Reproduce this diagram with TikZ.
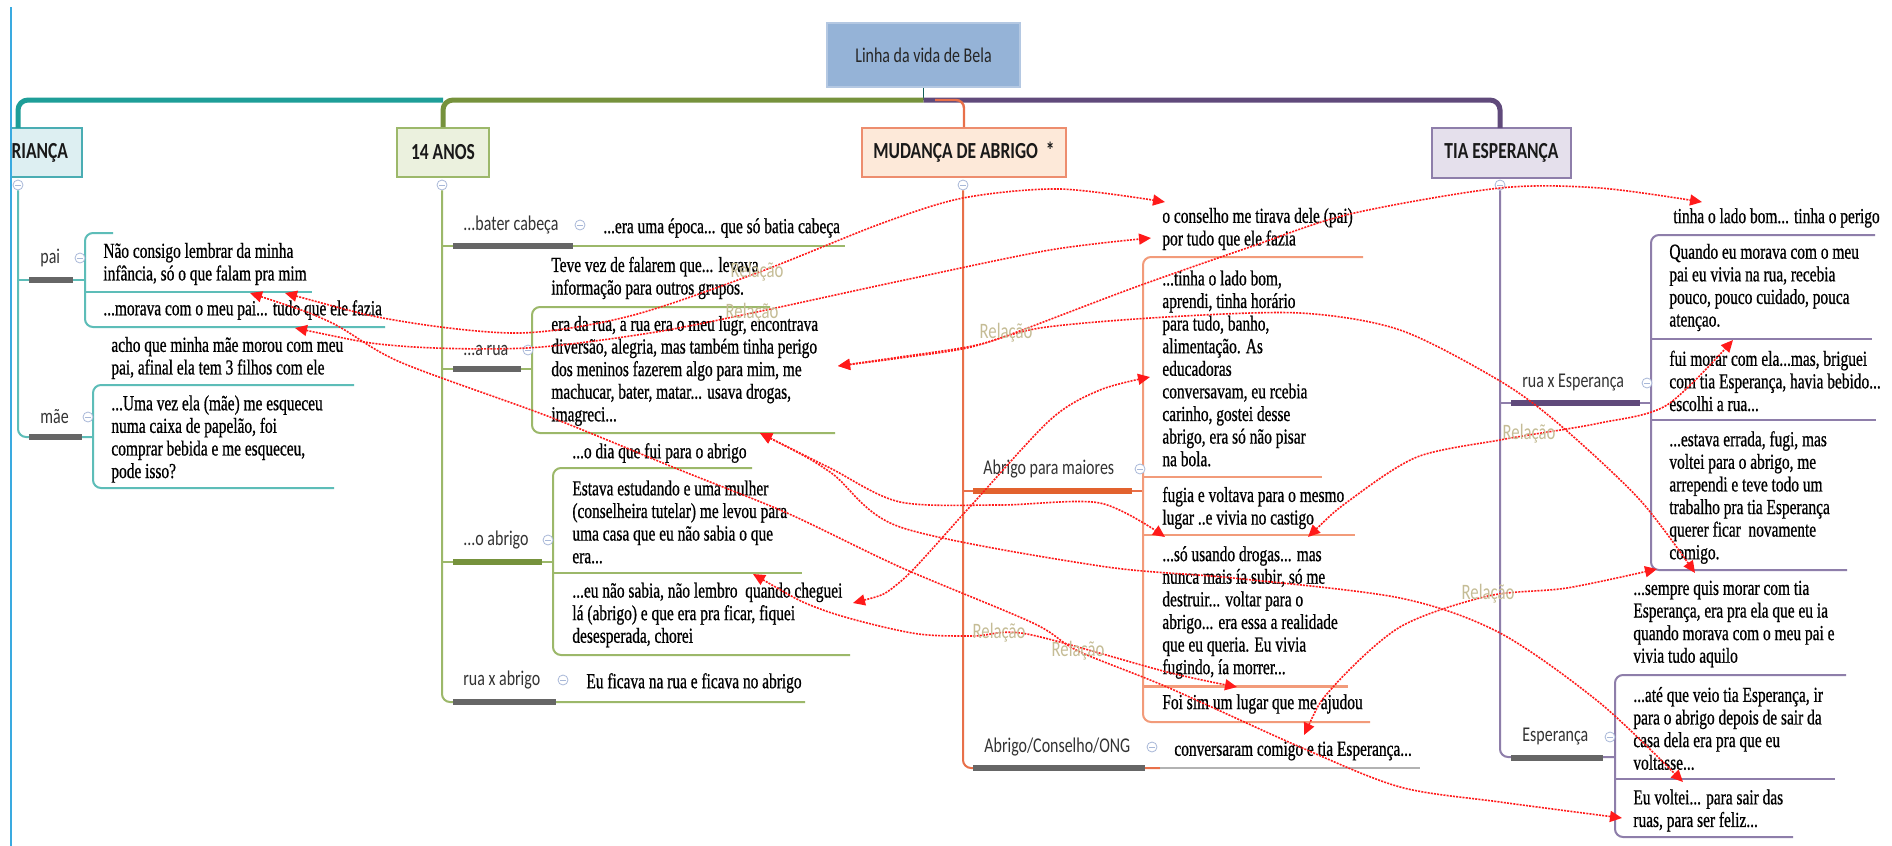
\documentclass[tikz,border=0pt]{standalone}
\usepackage{fontspec}
\setmainfont{Liberation Serif}[FakeStretch=0.72, FakeBold=0.7]
\newfontfamily\lblfont{Carlito}[FakeStretch=0.76]
\usetikzlibrary{arrows.meta}

\definecolor{cBlue}{HTML}{3AAAE0}
\definecolor{cTeal}{HTML}{1E9E98}
\definecolor{cTealL}{HTML}{5DBDB8}
\definecolor{cTealBox}{HTML}{DDEFF2}
\definecolor{cTealD}{HTML}{4AADB3}
\definecolor{cGreen}{HTML}{76923C}
\definecolor{cGreenL}{HTML}{9CB86A}
\definecolor{cGreenBox}{HTML}{EBF1DE}
\definecolor{cOrange}{HTML}{E8704A}
\definecolor{cOrangeL}{HTML}{F29B7A}
\definecolor{cOrangeBox}{HTML}{FDE9D9}
\definecolor{cOrangeDk}{HTML}{E2622E}
\definecolor{cPurple}{HTML}{604A7B}
\definecolor{cPurpleL}{HTML}{8E7EAA}
\definecolor{cPurpleBox}{HTML}{E5E0EC}
\definecolor{cTitle}{HTML}{95B3D7}
\definecolor{cTitleD}{HTML}{B4C8E2}
\definecolor{cGrayBar}{HTML}{666666}
\definecolor{cRel}{HTML}{C5BC95}
\definecolor{cKnob}{HTML}{A8B8D8}
\definecolor{cRed}{HTML}{FF1A1A}

\begin{document}
\begin{tikzpicture}[x=0.5pt,y=-0.5pt,
  body/.style={font=\fontsize{10.7}{11.3}\selectfont, align=left, anchor=west, inner sep=0pt, text=black},
  lab/.style={font=\lblfont\fontsize{10.5}{12}\selectfont, anchor=west, inner sep=0pt, text=black!80},
  headbox/.style={rectangle, line width=1pt, minimum height=24.5pt, inner sep=0pt,
    font=\lblfont\bfseries\fontsize{11.5}{13}\selectfont, text=black!90},
  relab/.style={font=\lblfont\fontsize{11}{12}\selectfont, text=cRel, inner sep=0pt},
  knob/.style={circle, draw=cKnob, fill=white, minimum size=5pt, inner sep=0pt, line width=0.4pt,
    path picture={\draw[cKnob, line width=0.4pt]
      ([xshift=-1.3pt]path picture bounding box.center) -- ([xshift=1.3pt]path picture bounding box.center);}},
  branch/.style={line width=1pt, rounded corners=4pt},
  ubar/.style={line width=2.7pt},
  rel/.style={cRed, line width=0.8pt, dash pattern=on 1pt off 0.6pt,
    {Triangle[length=6pt,width=5.5pt]}-{Triangle[length=6pt,width=5.5pt]}}
]
\useasboundingbox (0,0) rectangle (1892,846);
\fill[white] (0,0) rectangle (1892,846);

% left rule
\draw[cBlue, line width=1.2pt] (11,7) -- (11,846);

% central topic
\node[rectangle, fill=cTitle, draw=cTitleD, line width=0.8pt, minimum width=96.5pt, minimum height=32pt,
  font=\lblfont\fontsize{10.5}{12}\selectfont, text=black!85] (title) at (923.5,55) {Linha da vida de Bela};
\coordinate (bar) at (923.5,100);

% main topics
\begin{scope}
  \clip (12,0) rectangle (300,846);
  \node[headbox, fill=cTealBox, draw=cTealD, minimum width=48.5pt] (hCri) at (33.5,152.5) {};
  \node[headbox, anchor=east] (tCri) at (69,152.5) {CRIANÇA};
\end{scope}
\node[headbox, fill=cGreenBox, draw=cGreenL, minimum width=46pt] (h14) at (443,152.5) {14 ANOS};
\node[headbox, fill=cOrangeBox, draw=cOrange!80, minimum width=102pt] (hMud) at (964,152.5) {MUDANÇA DE ABRIGO\ \ *};
\node[headbox, fill=cPurpleBox, draw=cPurpleL, minimum width=69.5pt, minimum height=25pt] (hTia) at (1501.5,153) {TIA ESPERANÇA};

% main bar
\draw[cTeal!60!black, line width=0.8pt] (title.south) -- (bar);
\draw[cTeal, line width=2.5pt, rounded corners=5pt] (18,128) -- (18,100) -- (h14.north |- bar);
\draw[cGreen, line width=2.5pt, rounded corners=5pt] (h14.north) -- (h14.north |- bar) -- (bar);
\draw[cPurple, line width=2.5pt, rounded corners=5pt] (bar) -- (1500,100) -- (1500,128);
\draw[cOrange, line width=1.2pt, rounded corners=4pt] (935,100) -- (hMud.north |- bar) -- (hMud.north);

% knobs under main topics
\node[knob] (kCri) at (18,185) {};
\node[knob] (k14) at (442,185) {};
\node[knob] (kMud) at (963,185) {};
\node[knob] (kTia) at (1500,185) {};

% ---------- CRIANÇA ----------
\draw[cTealL, branch] (kCri.south) -- (18,437) -- (93,437);
\draw[cTealL, line width=1pt] (18,280) -- (85,280);
\draw[cGrayBar, ubar] (29,280) -- (73,280);
\draw[cGrayBar, ubar] (29,437) -- (82,437);
\draw[cTealL, branch] (113,233) -- (85,233) -- (85,327) -- (385,327);
\draw[cTealL, line width=1pt] (85,292) -- (312,292);
\draw[cTealL, branch] (354,385) -- (93,385) -- (93,488) -- (334,488);
\node[lab] (lPai) at (40,258) {pai};
\node[lab] (lMae) at (40,417) {mãe};
\node[knob] (kPai) at (80,258) {};
\node[knob] (kMae) at (88,417) {};
\node[body] (tPai1) at (103,264) {Não consigo lembrar da minha\\infância, só o que falam pra mim};
\node[body] (tPai2) at (103,310) {...morava com o meu pai... tudo que ele fazia};
\node[body] (tAcho) at (111,358) {acho que minha mãe morou com meu\\pai, afinal ela tem 3 filhos com ele};
\node[body] (tUma) at (111,439) {...Uma vez ela (mãe) me esqueceu\\numa caixa de papelão, foi\\comprar bebida e me esqueceu,\\pode isso?};

% ---------- 14 ANOS ----------
\draw[cGreenL, branch] (k14.south) -- (442,702) -- (805,702);
\draw[cGreenL, line width=1pt] (442,246) -- (845,246);
\draw[cGreenL, line width=1pt] (442,369) -- (532,369);
\draw[cGreenL, line width=1pt] (442,562) -- (553,562);
\draw[cGrayBar, ubar] (453,246) -- (573,246);
\draw[cGrayBar, ubar] (453,369) -- (521,369);
\draw[cGreen, ubar] (453,562) -- (542,562);
\draw[cGrayBar, ubar] (453,702) -- (556,702);
\draw[cGreenL, branch] (770,307) -- (532,307) -- (532,433) -- (835,433);
\draw[cGreenL, branch] (752,468) -- (553,468) -- (553,655) -- (850,655);
\draw[cGreenL, line width=1pt] (553,573) -- (802,573);
\node[lab] (lBater) at (463,225) {...bater cabeça};
\node[lab] (lRua) at (463,350) {...a rua};
\node[lab] (lAbr) at (463,540) {...o abrigo};
\node[lab] (lRuaAbr) at (463,680) {rua x abrigo};
\node[knob] (kBater) at (580,225) {};
\node[knob] (kRua) at (528,350) {};
\node[knob] (kAbr) at (548,540) {};
\node[knob] (kRuaAbr) at (563,680) {};
\node[body] (tEpoca) at (603,228) {...era uma época... que só batia cabeça};
\node[body] (tTeve) at (551,278) {Teve vez de falarem que... levava\\informação para outros grupos.};
\node[body] (tRua) at (551,371) {era da rua, a rua era o meu lugr, encontrava\\diversão, alegria, mas também tinha perigo\\dos meninos fazerem algo para mim, me\\machucar, bater, matar... usava drogas,\\imagreci...};
\node[body] (tDia) at (572,453) {...o dia que fui para o abrigo};
\node[body] (tEstava) at (572,522) {Estava estudando e uma mulher\\(conselheira tutelar) me levou para\\uma casa que eu não sabia o que\\era...};
\node[body] (tNaoSabia) at (572,615) {...eu não sabia, não lembro\ \ quando cheguei\\lá (abrigo) e que era pra ficar, fiquei\\desesperada, chorei};
\node[body] (tFicava) at (586,683) {Eu ficava na rua e ficava no abrigo};

% ---------- MUDANÇA DE ABRIGO ----------
\draw[cOrange, branch] (kMud.south) -- (963,768) -- (1160,768);
\draw[cOrange, line width=1pt] (963,491) -- (1143,491);
\draw[cOrangeDk, ubar] (973,491) -- (1132,491);
\draw[cGrayBar, ubar] (973,768) -- (1145,768);
\draw[black!30, line width=1pt] (1160,768) -- (1420,768);
\draw[cOrangeL, branch] (1363,257) -- (1143,257) -- (1143,722) -- (1370,722);
\draw[cOrangeL, line width=1pt] (1143,477) -- (1322,477);
\draw[cOrangeL, line width=1pt] (1143,535) -- (1355,535);
\draw[cOrangeL, line width=1.5pt] (1143,686) -- (1348,686);
\node[lab] (lMaiores) at (983,469) {Abrigo para maiores};
\node[lab] (lOng) at (984,747) {Abrigo/Conselho/ONG};
\node[knob] (kMaiores) at (1140,469) {};
\node[knob] (kOng) at (1152,747) {};
\node[body] (tConselho) at (1162,229) {o conselho me tirava dele (pai)\\por tudo que ele fazia};
\node[body] (tTinha) at (1162,368.5) {...tinha o lado bom,\\aprendi, tinha horário\\para tudo, banho,\\alimentação. As\\educadoras\\conversavam, eu rcebia\\carinho, gostei desse\\abrigo, era só não pisar\\na bola.};
\node[body] (tFugia) at (1162,508) {fugia e voltava para o mesmo\\lugar ..e vivia no castigo};
\node[body] (tDrogas) at (1162,612.5) {...só usando drogas... mas\\nunca mais ía subir, só me\\destruir... voltar para o\\abrigo... era essa a realidade\\que eu queria. Eu vivia\\fugindo, ía morrer...};
\node[body] (tFoi) at (1162,704) {Foi sim um lugar que me ajudou};
\node[body] (tConversaram) at (1174,751) {conversaram comigo e tia Esperança...};

% ---------- TIA ESPERANÇA ----------
\draw[cPurpleL, branch] (kTia.south) -- (1500,757) -- (1615,757);
\draw[cPurpleL, line width=1pt] (1500,403) -- (1651,403);
\draw[cPurple, ubar] (1511,403) -- (1640,403);
\draw[cGrayBar, ubar] (1511,758) -- (1603,758);
\draw[cPurpleL, branch] (1875,235) -- (1651,235) -- (1651,570) -- (1847,570);
\draw[cPurpleL, line width=1pt] (1651,339) -- (1872,339);
\draw[cPurpleL, line width=1pt] (1651,420) -- (1876,420);
\draw[cPurpleL, branch] (1846,675) -- (1615,675) -- (1615,837) -- (1793,837);
\draw[cPurpleL, line width=1pt] (1615,779) -- (1835,779);
\node[lab] (lRuaEsp) at (1522,383) {rua x Esperança};
\node[lab] (lEsp) at (1522,737) {Esperança};
\node[knob] (kRuaEsp) at (1647,383) {};
\node[knob] (kEsp) at (1610,737) {};
\node[body] (tLado) at (1673,218) {tinha o lado bom... tinha o perigo};
\node[body] (tQuando) at (1669,287.5) {Quando eu morava com o meu\\pai eu vivia na rua, recebia\\pouco, pouco cuidado, pouca\\atençao.};
\node[body] (tFui) at (1669,381) {fui morar com ela...mas, briguei\\com tia Esperança, havia bebido...\\escolhi a rua...};
\node[body] (tErrada) at (1669,497.5) {...estava errada, fugi, mas\\voltei para o abrigo, me\\arrependi e teve todo um\\trabalho pra tia Esperança\\querer ficar\ \ novamente\\comigo.};
\node[body] (tSempre) at (1633,624) {...sempre quis morar com tia\\Esperança, era pra ela que eu ia\\quando morava com o meu pai e\\vivia tudo aquilo};
\node[body] (tAte) at (1633,728.5) {...até que veio tia Esperança, ir\\para o abrigo depois de sair da\\casa dela era pra que eu\\voltasse...};
\node[body] (tVoltei) at (1633,810.5) {Eu voltei... para sair das\\ruas, para ser feliz...};

% ---------- relationship ends ----------
\coordinate (aA) at (250,293);
\coordinate (aB) at (285,293);
\coordinate (aC) at (295,328);
\coordinate (aD) at (838,366);
\coordinate (aE) at (760,433);
\coordinate (aF) at (853,603);
\coordinate (aG) at (753,574);
\coordinate (aH) at (1165,202);
\coordinate (aI) at (1151,238);
\coordinate (aJ) at (1150,377);
\coordinate (aK) at (1165,537);
\coordinate (aL) at (1308,537);
\coordinate (aM) at (1237,687);
\coordinate (aN) at (1304,735);
\coordinate (aO) at (1702,202);
\coordinate (aP) at (1733,340);
\coordinate (aQ) at (1657,569);
\coordinate (aR) at (1695,573);
\coordinate (aS) at (1683,782);
\coordinate (aT) at (1622,818);

% ---------- relationships ----------
\draw[rel] plot[smooth, tension=0.5] coordinates {(aB) (400,321) (520,333) (630,316) (757,273) (880,224) (963,198) (1060,189) (aH)};
\draw[rel] plot[smooth, tension=0.5] coordinates {(aC) (400,346) (527,348) (650,333) (752,313) (900,281) (1050,250) (aI)};
\draw[rel] plot[smooth, tension=0.5] coordinates {(aD) (900,357) (967,347) (1006,336) (1133,288) (1250,247) (1350,214) (1500,188) (1600,188) (aO)};
\draw[rel] plot[smooth, tension=0.5] coordinates {(aD) (900,358) (967,348) (1040,328) (1167,317) (1300,313) (1400,330) (1500,381) (1560,425) (1640,500) (aR)};
\draw[rel] plot[smooth, tension=0.5] coordinates {(aL) (1350,500) (1417,457) (1500,440) (1529,435) (1600,423) (1667,405) (aP)};
\draw[rel] plot[smooth, tension=0.5] coordinates {(aN) (1333,687) (1400,627) (1488,596) (1567,588) (aQ)};
\draw[rel] plot[smooth, tension=0.5] coordinates {(aE) (830,472) (900,527) (1100,566) (1233,578) (1400,598) (1500,633) (1600,703) (aS)};
\draw[rel] plot[smooth, tension=0.5] coordinates {(aE) (830,468) (900,502) (1000,505) (1100,503) (aK)};
\draw[rel] plot[smooth, tension=0.5] coordinates {(aA) (330,322) (400,362) (550,417) (680,470) (787,513) (900,567) (1033,623) (1078,651) (1167,687) (1300,747) (1400,787) (1500,802) (aT)};
\draw[rel] plot[smooth, tension=0.5] coordinates {(aF) (900,582) (967,510) (1050,420) (1100,390) (aJ)};
\draw[rel] plot[smooth, tension=0.5] coordinates {(aG) (823,610) (912,633) (973,636) (1027,634) (1167,672) (aM)};

% relationship labels
\node[relab] (r1) at (757,272) {Relação};
\node[relab] (r2) at (752,313) {Relação};
\node[relab] (r3) at (1006,333) {Relação};
\node[relab] (r4) at (999,633) {Relação};
\node[relab] (r5) at (1078,651) {Relação};
\node[relab] (r6) at (1529,434) {Relação};
\node[relab] (r7) at (1488,594) {Relação};
\end{tikzpicture}
\end{document}
